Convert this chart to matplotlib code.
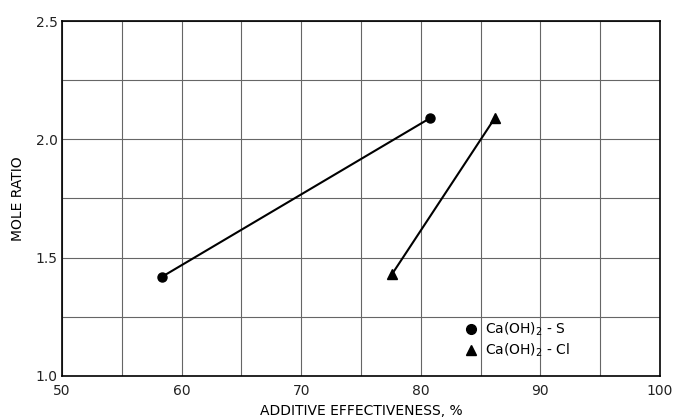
import numpy as np
from matplotlib import pyplot as plt
from matplotlib.lines import Line2D

# data
x_s = [58.4, 80.8]
y_s = [1.42, 2.09]
x_cl = [77.6, 86.2]
y_cl = [1.43, 2.09]
lab_s = r'Ca(OH)$_2$ - S'
lab_cl = r'Ca(OH)$_2$ - Cl'

fig = plt.figure(figsize=(6.81, 4.2), dpi=100)
ax = fig.add_axes([0.091, 0.105, 0.878, 0.845])

ax.plot(x_s, y_s, color='black', lw=1.5, marker='o', ms=6.5)
ax.plot(x_cl, y_cl, color='black', lw=1.5, marker='^', ms=7.5)

ax.set_xlim(50, 100)
ax.set_ylim(1.0, 2.5)
ax.set_xticks(np.arange(50, 101, 10))
ax.set_yticks([1.0, 1.5, 2.0, 2.5])
ax.set_xticks(np.arange(50, 101, 5), minor=True)
ax.set_yticks(np.arange(1.0, 2.51, 0.25), minor=True)
ax.grid(which='both', color='#666666', lw=0.8)
ax.tick_params(which='both', length=0, labelsize=10, colors='#222222')
ax.tick_params(axis='x', pad=6)
ax.tick_params(axis='y', pad=3)
for s in ax.spines.values():
    s.set_linewidth(1.2)

ax.set_xlabel('ADDITIVE EFFECTIVENESS, %', fontsize=10, labelpad=4)
ax.set_ylabel('MOLE RATIO', fontsize=10, labelpad=8)

handles = [Line2D([], [], ls='none', marker='o', ms=7, color='black'),
           Line2D([], [], ls='none', marker='^', ms=7.5, color='black')]
ax.legend(handles, [lab_s, lab_cl], loc='lower left',
          bbox_to_anchor=(0.657, 0.015), frameon=False, fontsize=10,
          handlelength=0.8, handletextpad=0.6, labelspacing=0.3, borderpad=0.3)

fig.savefig('out.png', dpi=100)
